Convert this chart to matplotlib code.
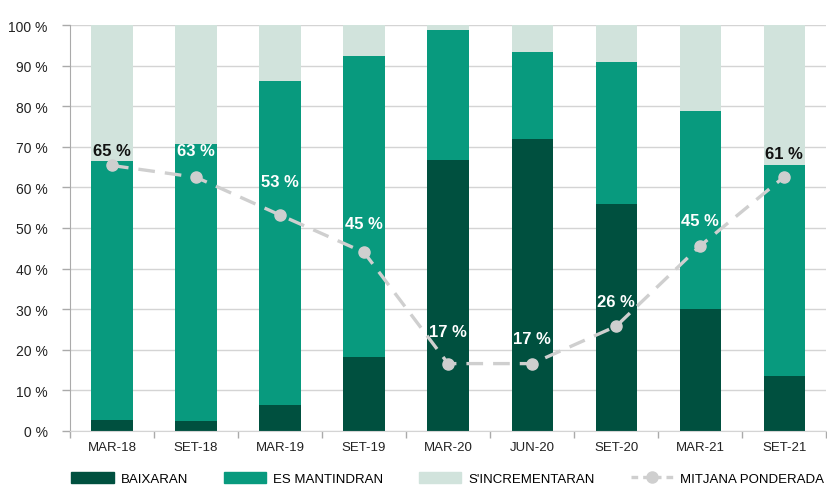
import matplotlib
matplotlib.use("Agg")
import matplotlib.pyplot as plt
from matplotlib.patches import Patch
from matplotlib.lines import Line2D
import numpy as np

categories = ["MAR-18", "SET-18", "MAR-19", "SET-19", "MAR-20", "JUN-20", "SET-20", "MAR-21", "SET-21"]
baixaran = [2.7, 2.4, 6.4, 18.2, 66.7, 71.9, 55.9, 30.0, 13.5]
mantindran = [63.8, 68.3, 79.8, 74.2, 32.1, 21.4, 35.0, 48.8, 52.0]
incrementaran = [33.5, 29.3, 13.8, 7.6, 1.2, 6.7, 9.1, 21.2, 34.5]
mitjana = [65.4, 62.5, 53.2, 44.0, 16.6, 16.6, 25.8, 45.6, 62.6]
mitjana_labels = ["65 %", "63 %", "53 %", "45 %", "17 %", "17 %", "26 %", "45 %", "61 %"]

# styling for the labels
label_colors = ["#111111", "white", "white", "white", "white", "white", "white", "white", "#111111"]
label_offsets_pt = [11, 19, 24, 21, 23, 18, 18, 18, 17]

c_dark = "#00503f"
c_mid = "#089a7e"
c_light = "#d1e3dc"
c_line = "#cfcfcf"

plt.rcParams['font.family'] = ['Liberation Sans', 'DejaVu Sans']

fig = plt.figure(figsize=(8.27, 4.89), dpi=100)
ax = fig.add_axes([0.0846, 0.1166, 0.9144, 0.8302])

x = np.arange(len(categories))
w = 0.49
b1 = np.array(baixaran)
b2 = b1 + np.array(mantindran)
ax.bar(x, baixaran, w, color=c_dark, zorder=2)
ax.bar(x, mantindran, w, bottom=b1, color=c_mid, zorder=2)
ax.bar(x, incrementaran, w, bottom=b2, color=c_light, zorder=2)

ax.plot(x, mitjana, color=c_line, lw=2.4, dashes=(5, 3), marker='o', ms=8,
        mfc=c_line, mec=c_line, zorder=3)
for xi, v, lab, col, off in zip(x, mitjana, mitjana_labels, label_colors, label_offsets_pt):
    ax.annotate(lab, (xi, v), xytext=(0, off), textcoords='offset points',
                ha='center', va='center', fontsize=12, fontweight='bold',
                color=col, zorder=4)

ax.set_xlim(-0.5, len(categories) - 0.5)
ax.set_ylim(0, 100)
ax.set_yticks(np.arange(0, 101, 10))
ax.set_yticklabels([f"{v} %" for v in range(0, 101, 10)], fontsize=10, color="#222222")
ax.set_xticks(x)
ax.set_xticklabels(categories, fontsize=9.5, color="#222222")
ax.set_xticks(np.arange(-0.5, len(categories), 1), minor=True)
ax.tick_params(axis='x', which='major', length=0, pad=7)
ax.tick_params(axis='x', which='minor', length=5, color="#aaaaaa", width=1)
ax.tick_params(axis='y', length=6, color="#aaaaaa", width=1, pad=10)
ax.grid(axis='y', color="#d4d4d4", lw=1, zorder=0)
for s in ['top', 'right']:
    ax.spines[s].set_visible(False)
ax.spines['left'].set_color("#aaaaaa")
ax.spines['bottom'].set_color("#d4d4d4")

handles = [Patch(color=c_dark), Patch(color=c_mid), Patch(color=c_light),
           Line2D([0], [0], color=c_line, lw=2.4, dashes=(2, 1.5), marker='o', ms=8)]
labels = ["BAIXARAN", "ES MANTINDRAN", "S'INCREMENTARAN", "MITJANA PONDERADA"]
fig.legend(handles, labels, loc='lower left', bbox_to_anchor=(0.072, -0.018), ncol=4,
           frameon=False, fontsize=9.5, handlelength=3.2, handleheight=0.9,
           columnspacing=2.7, handletextpad=0.55)

fig.savefig("out.png", dpi=100)
